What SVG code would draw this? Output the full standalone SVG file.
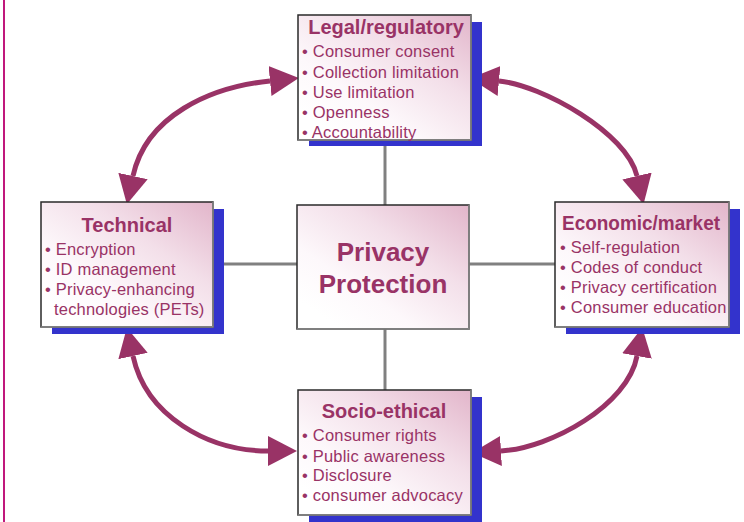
<svg xmlns="http://www.w3.org/2000/svg" width="744" height="522" viewBox="0 0 744 522">
<style>
.shadow{fill:#3333cc}
.box{fill:url(#g);stroke:#2a2a2a;stroke-width:1.5}
.edge{fill:none;stroke:#8a8a8a;stroke-width:1.5}
.title{font-family:"Liberation Sans",Arial,sans-serif;font-weight:bold;font-size:20px;fill:#993366;text-anchor:middle}
.item{font-family:"Liberation Sans",Arial,sans-serif;font-size:16.5px;letter-spacing:0.2px;fill:#993366}
.big{font-family:"Liberation Sans",Arial,sans-serif;font-weight:bold;font-size:26px;fill:#993366;text-anchor:middle}
.conn{stroke:#808080;stroke-width:3;fill:none}
.arc{stroke:#993366;stroke-width:5;fill:none;marker-start:url(#ah);marker-end:url(#ah)}
</style>
<defs>
<linearGradient id="g" x1="1" y1="0" x2="0.15" y2="0.9">
<stop offset="0" stop-color="#e2b5ca"/>
<stop offset="0.4" stop-color="#f3dfe9"/>
<stop offset="0.75" stop-color="#fdf8fb"/>
<stop offset="1" stop-color="#ffffff"/>
</linearGradient>
<marker id="ah" markerUnits="userSpaceOnUse" markerWidth="30" markerHeight="32" refX="0" refY="15" orient="auto-start-reverse" viewBox="0 0 30 30">
<path d="M0,0 L29,15 L0,30 z" fill="#993366"/>
</marker>
</defs>
<line x1="4" y1="0" x2="4" y2="522" stroke="#c0187c" stroke-width="2"/>
<g id="connectors">
<line class="conn" x1="385" y1="140" x2="385" y2="205"/>
<line class="conn" x1="385" y1="329" x2="385" y2="390"/>
<line class="conn" x1="213" y1="264" x2="297" y2="264"/>
<line class="conn" x1="469" y1="264" x2="555" y2="264"/>
<path class="arc" d="M270,81 C210,87 146,116 133,176"/>
<path class="arc" d="M499,81 C542,85 627,133 637,176"/>
<path class="arc" d="M133,356 C146,416 208,451 268,451"/>
<path class="arc" d="M637,356 C628,405 551,448 501,451"/>
</g>
<g id="legal">
<rect class="shadow" x="309" y="22" width="173" height="124"/>
<rect class="box" x="298" y="15" width="173" height="125"/>
<polyline class="edge" points="471,15 471,140 298,140"/>
<text class="title" x="386" y="34">Legal/regulatory</text>
<text class="item" x="302" y="57">• Consumer consent</text>
<text class="item" x="302" y="77.5">• Collection limitation</text>
<text class="item" x="302" y="98">• Use limitation</text>
<text class="item" x="302" y="118">• Openness</text>
<text class="item" x="302" y="138">• Accountability</text>
</g>
<g id="technical">
<rect class="shadow" x="52" y="209" width="172" height="125"/>
<rect class="box" x="41" y="202" width="172" height="125"/>
<polyline class="edge" points="213,202 213,327 41,327"/>
<text class="title" x="127" y="232">Technical</text>
<text class="item" x="45" y="255">• Encryption</text>
<text class="item" x="45" y="274.5">• ID management</text>
<text class="item" x="45" y="295">• Privacy-enhancing</text>
<text class="item" x="54" y="314.5">technologies (PETs)</text>
</g>
<g id="center">
<rect class="box" x="297" y="205" width="172" height="124"/>
<polyline class="edge" points="469,205 469,329 297,329"/>
<text class="big" x="383" y="261">Privacy</text>
<text class="big" x="383" y="293">Protection</text>
</g>
<g id="economic">
<rect class="shadow" x="566" y="209" width="174" height="125"/>
<rect class="box" x="555" y="202" width="174" height="125"/>
<polyline class="edge" points="729,202 729,327 555,327"/>
<text class="title" x="641" y="230" textLength="158" lengthAdjust="spacingAndGlyphs">Economic/market</text>
<text class="item" x="560" y="253">• Self-regulation</text>
<text class="item" x="560" y="273">• Codes of conduct</text>
<text class="item" x="560" y="293">• Privacy certification</text>
<text class="item" x="560" y="313">• Consumer education</text>
</g>
<g id="socio">
<rect class="shadow" x="309" y="397" width="173" height="125"/>
<rect class="box" x="298" y="390" width="173" height="125"/>
<polyline class="edge" points="471,390 471,515 298,515"/>
<text class="title" x="384" y="418">Socio-ethical</text>
<text class="item" x="302" y="441">• Consumer rights</text>
<text class="item" x="302" y="461.5">• Public awareness</text>
<text class="item" x="302" y="481">• Disclosure</text>
<text class="item" x="302" y="501">• consumer advocacy</text>
</g>
</svg>
